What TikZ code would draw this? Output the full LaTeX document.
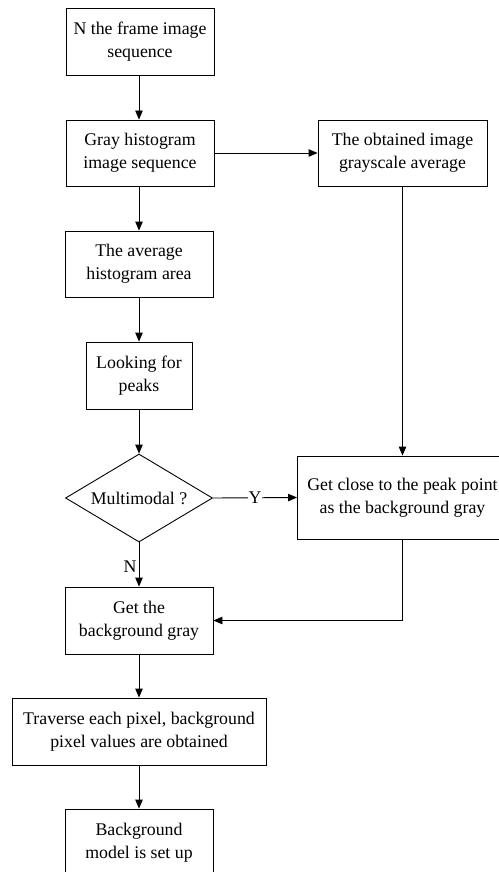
\documentclass[tikz,border=0pt]{standalone}
\usepackage{fontspec}
\setmainfont{Liberation Serif}
\usetikzlibrary{arrows.meta,shapes.geometric}
\begin{document}
\begin{tikzpicture}[x=1pt,y=1pt,
  every node/.style={font=\fontsize{17.8}{23}\selectfont},
  boxnode/.style={draw,line width=0.9pt,align=center,inner sep=0pt},
  decide/.style={draw,line width=0.9pt,diamond,aspect=1.67,inner sep=0pt,minimum width=147pt,minimum height=88pt},
  flow/.style={line width=0.9pt,-{Triangle[length=9pt,width=7.5pt]}},
  lab/.style={fill=white,inner sep=1pt}]
\useasboundingbox (0,0) rectangle (498,-872);
\node[boxnode,minimum width=148pt,minimum height=67pt] (b1) at (140,-41.5) {N the frame image\\sequence};
\node[boxnode,minimum width=148pt,minimum height=66pt] (b2) at (140,-153) {Gray histogram\\image sequence};
\node[boxnode,minimum width=169pt,minimum height=66pt] (b3) at (402.5,-153) {The obtained image\\grayscale average};
\node[boxnode,minimum width=148pt,minimum height=66pt] (b4) at (139,-264) {The average\\histogram area};
\node[boxnode,minimum width=106pt,minimum height=67pt] (b5) at (139,-375.5) {Looking for\\peaks};
\node[decide] (d) at (139,-498) {Multimodal ?};
\node[boxnode,minimum width=210pt,minimum height=83pt] (b7) at (402.5,-497.5) {Get close to the peak point\\as the background gray};
\node[boxnode,minimum width=148pt,minimum height=67pt] (b8) at (139,-620.5) {Get the\\background gray};
\node[boxnode,minimum width=254pt,minimum height=67pt] (b9) at (139,-731.5) {Traverse each pixel, background\\pixel values are obtained};
\node[boxnode,minimum width=148pt,minimum height=67pt] (b10) at (139,-842.5) {Background\\model is set up};
\coordinate (c1) at (b7.south |- b8.east);
\draw[flow] (b1.south -| b4.north) -- (b2.north -| b4.north);
\draw[flow] (b2.south -| b4.north) -- (b4.north);
\draw[flow] (b4) -- (b5);
\draw[flow] (b5) -- (d.north);
\draw[flow] (d.south) -- node[pos=0.55,left,inner sep=2pt] (ln) {N} (b8.north);
\draw[flow] (d.east) -- node[lab,pos=0.5] (ly) {Y} (b7.west);
\draw[flow] (b2.east) -- (b3.west);
\draw[flow] (b3.south) -- (b7.north);
\draw[flow] (b7.south) -- (c1) -- (b8.east);
\draw[flow] (b8) -- (b9);
\draw[flow] (b9) -- (b10);
\end{tikzpicture}
\end{document}
